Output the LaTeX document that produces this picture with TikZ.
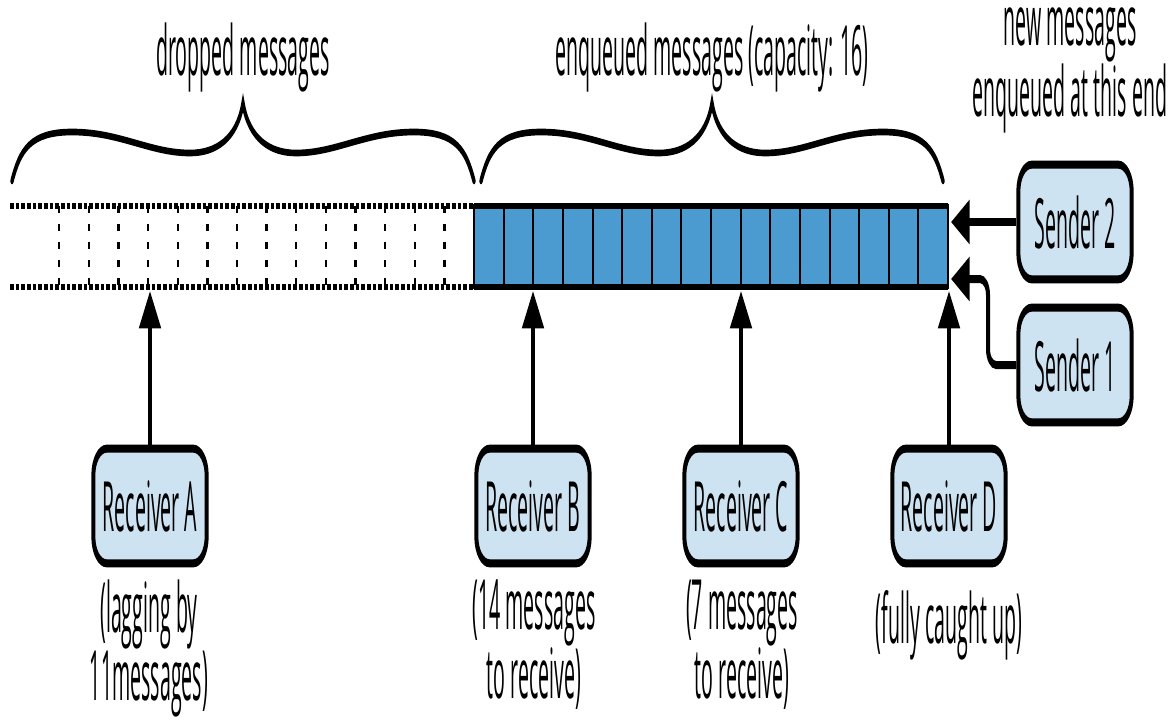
\documentclass[tikz,border=0pt]{standalone}
\usepackage{fontspec}
\setmainfont{Open Sans}[FakeStretch=0.565]
\usetikzlibrary{arrows.meta}

\definecolor{cellblue}{RGB}{75,154,208}
\definecolor{boxblue}{RGB}{206,227,242}

\tikzset{every picture/.style={line width=0.75pt}}
\tikzset{
  actor/.style={draw, fill=boxblue, line width=6pt, rounded corners=20pt, minimum width=170pt, minimum height=86pt, inner sep=0pt, font=\fontsize{52}{38}\selectfont},
  note/.style={align=center, inner sep=0pt, font=\fontsize{52}{38}\selectfont},
  flow/.style={line width=6pt, -{Triangle[length=28pt,width=32pt]}},
  slot/.style={draw, line width=3pt, fill=cellblue},
  lost/.style={line width=3.5pt, dash pattern=on 5.5pt off 8pt},
  rim/.style={line width=4pt, dash pattern=on 5.5pt off 3pt},
  curly/.style={line width=5pt, line cap=round}
}

\begin{document}
\begin{tikzpicture}[x=0.75pt,y=0.75pt,yscale=-1,xscale=1]
\useasboundingbox (0,0) rectangle (1176,725);
\begin{scope}[overlay, transform canvas={xscale=0.5}, x=1.5pt]

% dropped slots
\foreach \i in {1,...,14}
  \draw[lost] (474-29.625*\i,206) -- (474-29.625*\i,287);
\draw[rim] (10,206) -- (474,206) (10,287) -- (474,287);

% enqueued slots
\foreach \i in {0,...,15}
  \draw[slot] (474+29.625*\i,206) rectangle ++(29.625,81);
\draw[line width=4.5pt] (474,206) -- (948,206) (474,287) -- (948,287);

% braces
\foreach \dx in {0,469}
  \draw[curly, shift={(\dx,0)}] (12,181) .. controls (20,150) and (30,132) .. (72,132) .. controls (120,132) and (150,153) .. (190,153) .. controls (215,153) and (237,140) .. (243,103) .. controls (249,140) and (271,153) .. (296,153) .. controls (336,153) and (366,132) .. (414,132) .. controls (456,132) and (466,150) .. (474,181);

% ends of the arrows
\coordinate (qa) at (150,291);
\coordinate (qb) at (533,291);
\coordinate (qc) at (741,291);
\coordinate (qd) at (949,291);
\coordinate (in2) at (951,222);
\coordinate (in1) at (951,279);
\coordinate (bend) at (988,279);

% receivers and senders
\node[actor] (ra) at (150,506) {Receiver A};
\node[actor] (rb) at (533,506) {Receiver B};
\node[actor] (rc) at (741,506) {Receiver C};
\node[actor] (rd) at (949,506) {Receiver D};
\node[actor] (s2) at (1075,222) {Sender 2};
\node[actor] (s1) at (1075,365) {Sender 1};

\draw[flow] (ra.north) -- (qa);
\draw[flow] (rb.north) -- (qb);
\draw[flow] (rc.north) -- (qc);
\draw[flow] (rd.north) -- (qd);
\draw[flow] (s2.west) -- (in2);
\draw[flow, rounded corners=12pt] (s1.west) -| (bend) -- (in1);

% labels
\node[note, anchor=base] (drop) at (243,75) {dropped messages};
\node[note, anchor=base] (enq) at (712,75) {enqueued messages (capacity: 16)};
\node[note, anchor=base, font=\fontsize{52}{46}\selectfont] (newm) at (1070,116) {new messages\\enqueued at this end};
\node[note, anchor=base] (la) at (149,700) {(lagging by\\11messages)};
\node[note, anchor=base] (lb) at (534,698) {(14 messages\\to receive)};
\node[note, anchor=base] (lc) at (742,698) {(7 messages\\to receive)};
\node[note, anchor=base] (ld) at (949,643) {(fully caught up)};

\end{scope}
\end{tikzpicture}
\end{document}
